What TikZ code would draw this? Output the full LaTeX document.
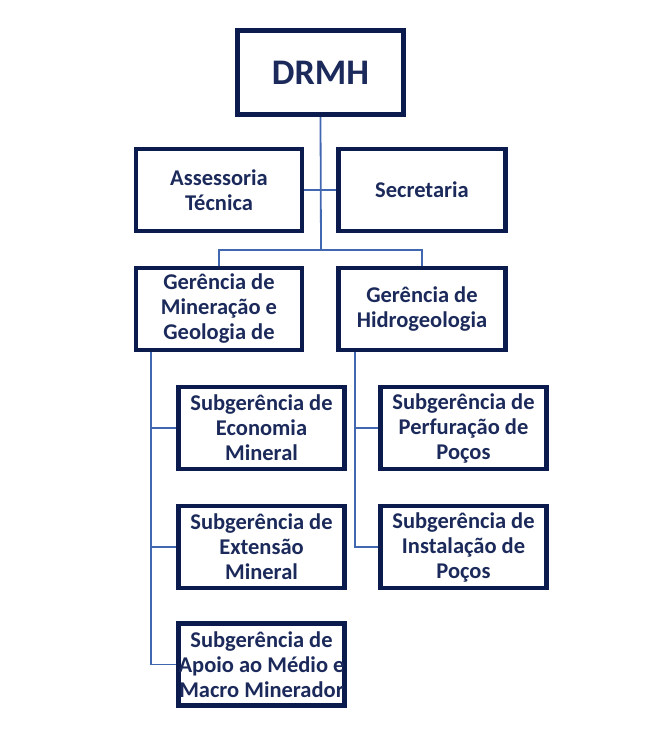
\documentclass[tikz,border=0pt]{standalone}
\usepackage{fontspec}
\setmainfont{Carlito}
\usepackage{tikz}
\usetikzlibrary{backgrounds}

\definecolor{navy}{HTML}{0C1B4D}
\definecolor{inkblue}{HTML}{1B2A5A}
\definecolor{linkblue}{HTML}{4167B0}

\begin{document}
\begin{tikzpicture}[x=1pt,y=-1pt,
  box/.style={draw=navy,line width=4.5pt,fill=white,text=inkblue,align=center,
    font=\fontsize{22.5}{25}\selectfont\bfseries,inner sep=0pt,
    minimum width=166pt,minimum height=82pt},
  link/.style={draw=linkblue,line width=1.8pt}]
\useasboundingbox (0,0) rectangle (654,732);

\node[box,minimum height=84pt,font=\fontsize{36}{40}\selectfont\bfseries] (drmh) at (320.5,72.5) {DRMH};
\node[box] (asse) at (219,190) {Assessoria\\Técnica};
\node[box,minimum width=167pt] (secr) at (422,190) {Secretaria};
\node[box] (germ) at (219,309) {Gerência de\\Mineração e\\Geologia de};
\node[box,minimum width=167pt] (gerh) at (422,309) {Gerência de\\Hidrogeologia};

\node[box] (seco) at (261.5,428) {Subgerência de\\Economia\\Mineral};
\node[box] (sext) at (261.5,547) {Subgerência de\\Extensão\\Mineral};
\node[box] (sapo) at (261.5,664.5) {Subgerência de\\Apoio ao Médio e\\Macro Minerador};
\node[box] (sper) at (463.5,428) {Subgerência de\\Perfuração de\\Poços};
\node[box] (sins) at (463.5,547) {Subgerência de\\Instalação de\\Poços};

\coordinate (fork) at (321,250);

% links behind the boxes
\begin{scope}[on background layer]
\draw[link] (drmh.south) -- (fork);
\draw[link] (asse.east) -- (secr.west);
\draw[link] (fork) -| (germ.north);
\draw[link] (fork) -| (gerh.north);
\draw[link] ([xshift=17pt]germ.south west) |- (seco.west);
\draw[link] ([xshift=17pt]germ.south west) |- (sext.west);
\draw[link] ([xshift=17pt]germ.south west) |- (sapo.west);
\draw[link] ([xshift=19pt]gerh.south west) |- (sper.west);
\draw[link] ([xshift=19pt]gerh.south west) |- (sins.west);
\end{scope}
\end{tikzpicture}
\end{document}
